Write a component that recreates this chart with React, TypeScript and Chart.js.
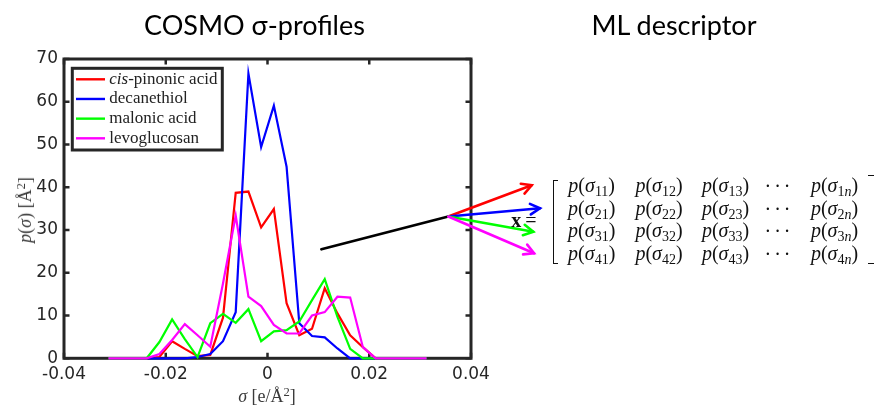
import React, { useEffect, useRef } from "react";
import { Chart, registerables } from "chart.js";

Chart.register(...registerables);

// ---------- data ----------
const sigmaValues = [
  -0.03125, -0.02875, -0.02625, -0.02375, -0.02125, -0.01875, -0.01625, -0.01375,
  -0.01125, -0.00875, -0.00625, -0.00375, -0.00125, 0.00125, 0.00375, 0.00625,
  0.00875, 0.01125, 0.01375, 0.01625, 0.01875, 0.02125, 0.02375, 0.02625, 0.02875, 0.03125,
];
const cisPinonicAcid = [
  0, 0, 0, 0, 0.3, 4.0, 2.2, 0.5, 0.8, 9.5, 38.7, 39.0, 30.6, 34.9, 12.9, 5.4,
  6.9, 16.4, 10.5, 5.4, 2.6, 0, 0, 0, 0, 0,
];
const decanethiol = [
  0, 0, 0, 0, 0, 0, 0, 0.3, 1.0, 4.0, 10.8, 66.6, 49.4, 59.1, 44.8, 8.2,
  5.2, 4.9, 2.3, 0, 0, 0, 0, 0, 0, 0,
];
const malonicAcid = [
  0, 0, 0, 0, 3.8, 9.1, 4.5, 0.3, 8.2, 10.4, 8.3, 11.5, 4.0, 6.3, 6.6, 8.6,
  13.6, 18.5, 9.7, 2.2, 0, 0, 0, 0, 0, 0,
];
const levoglucosan = [
  0, 0, 0, 0, 1.0, 4.3, 8.0, 5.4, 2.7, 17.5, 33.4, 14.4, 12.2, 7.8, 5.8, 5.8,
  10.0, 10.8, 14.4, 14.2, 2.6, 0, 0, 0, 0, 0,
];

const seriesLabels = ["cis-pinonic acid", "decanethiol", "malonic acid", "levoglucosan"];
const seriesItalicPrefix = ["cis", "", "", ""];
const seriesColors = ["#ff0000", "#0000ff", "#00ff00", "#ff00ff"];
const seriesValues = [cisPinonicAcid, decanethiol, malonicAcid, levoglucosan];

const xTickValues = [-0.04, -0.02, 0, 0.02, 0.04];
const xTickLabels = ["-0.04", "-0.02", "0", "0.02", "0.04"];
const yTickValues = [0, 10, 20, 30, 40, 50, 60, 70];
const yTickLabels = ["0", "10", "20", "30", "40", "50", "60", "70"];

const matrixRowIndex = ["1", "2", "3", "4"];
const matrixColIndex = ["1", "2", "3", "dots", "n"];

const AXIS_COLOR = "#262626";

// ---------- plugins ----------
const framePlugin = {
  id: "frameTicks",
  beforeDatasetsDraw(chart: any) {
    const { ctx, chartArea } = chart;
    const { left, right, top, bottom } = chartArea;
    const xs = chart.scales.x;
    const ys = chart.scales.y;
    ctx.save();
    ctx.strokeStyle = AXIS_COLOR;
    ctx.lineWidth = 3;
    ctx.strokeRect(left, top, right - left, bottom - top);
    const tl = 5.5;
    ctx.lineWidth = 2.5;
    ctx.beginPath();
    xTickValues.forEach((v) => {
      const px = xs.getPixelForValue(v);
      ctx.moveTo(px, bottom);
      ctx.lineTo(px, bottom - tl);
      ctx.moveTo(px, top);
      ctx.lineTo(px, top + tl);
    });
    yTickValues.forEach((v) => {
      const py = ys.getPixelForValue(v);
      ctx.moveTo(left, py);
      ctx.lineTo(left + tl, py);
      ctx.moveTo(right, py);
      ctx.lineTo(right - tl, py);
    });
    ctx.stroke();
    ctx.restore();
  },
};

const legendPlugin = {
  id: "boxLegend",
  afterDatasetsDraw(chart: any) {
    const { ctx, chartArea } = chart;
    const bx = chartArea.left + 8.3;
    const by = chartArea.top + 9.3;
    const bw = 150;
    const bh = 81.7;
    ctx.save();
    ctx.fillStyle = "#ffffff";
    ctx.fillRect(bx, by, bw, bh);
    ctx.strokeStyle = AXIS_COLOR;
    ctx.lineWidth = 3;
    ctx.strokeRect(bx, by, bw, bh);
    seriesLabels.forEach((label, i) => {
      const y = by + 11 + i * 19.67;
      ctx.strokeStyle = seriesColors[i];
      ctx.lineWidth = 2.4;
      ctx.beginPath();
      ctx.moveTo(bx + 3.7, y);
      ctx.lineTo(bx + 32.7, y);
      ctx.stroke();
      ctx.fillStyle = "#222222";
      ctx.textBaseline = "middle";
      ctx.textAlign = "left";
      let x = bx + 37;
      let rest = label;
      const pre = seriesItalicPrefix[i];
      if (pre) {
        ctx.font = 'italic 17px "Liberation Serif"';
        ctx.fillText(pre, x, y);
        x += ctx.measureText(pre).width;
        rest = label.slice(pre.length);
      }
      ctx.font = '17px "Liberation Serif"';
      ctx.fillText(rest, x, y);
    });
    ctx.restore();
  },
};

const arrowPlugin = {
  id: "descriptorArrows",
  afterDraw(chart: any) {
    const { ctx } = chart;
    const xs = chart.scales.x;
    const ys = chart.scales.y;
    // start of the black pointer inside the plot (data coords)
    const sx = xs.getPixelForValue(0.0106);
    const sy = ys.getPixelForValue(25.5);
    const ox = 448.3;
    const oy = 216.5;
    ctx.save();
    ctx.lineCap = "round";
    ctx.strokeStyle = "#000000";
    ctx.lineWidth = 2.8;
    ctx.beginPath();
    ctx.moveTo(sx, sy);
    ctx.lineTo(ox, oy);
    ctx.stroke();
    const tips = [
      [531.7, 185.3],
      [540, 208.3],
      [533.3, 231.7],
      [534, 253.3],
    ];
    tips.forEach(([tx, ty], i) => {
      ctx.strokeStyle = seriesColors[i];
      ctx.lineWidth = 2.6;
      ctx.beginPath();
      ctx.moveTo(ox, oy);
      ctx.lineTo(tx, ty);
      ctx.stroke();
      const ang = Math.atan2(ty - oy, tx - ox);
      const hl = 11;
      const ha = 0.5;
      ctx.beginPath();
      ctx.moveTo(tx - hl * Math.cos(ang - ha), ty - hl * Math.sin(ang - ha));
      ctx.lineTo(tx, ty);
      ctx.lineTo(tx - hl * Math.cos(ang + ha), ty - hl * Math.sin(ang + ha));
      ctx.stroke();
    });
    ctx.restore();
  },
};

// ---------- overlay pieces ----------
const mathFont = '"Liberation Serif", "DejaVu Serif", serif';

function Cell({ r, c }: { r: string; c: string }) {
  if (c === "dots") {
    return <span style={{ letterSpacing: "3px" }}>···</span>;
  }
  return (
    <span>
      <i>p</i>(<i>σ</i>
      <span style={{ fontSize: "70%", position: "relative", top: "0.3em" }}>
        {r}
        {c === "n" ? <i>n</i> : c}
      </span>
      )
    </span>
  );
}

export default function App() {
  const canvasRef = useRef<HTMLCanvasElement | null>(null);

  useEffect(() => {
    if (!canvasRef.current) return;
    const order = [3, 2, 1, 0];
    const chart = new Chart(canvasRef.current, {
      type: "line",
      data: {
        datasets: seriesLabels.map((label, i) => ({
          label,
          data: sigmaValues.map((s, j) => ({ x: s, y: seriesValues[i][j] })),
          borderColor: seriesColors[i],
          backgroundColor: seriesColors[i],
          borderWidth: 2.2,
          pointRadius: 0,
          tension: 0,
          fill: false,
          clip: 6,
          order: order[i],
        })),
      },
      options: {
        responsive: false,
        animation: false,
        devicePixelRatio: 1,
        layout: { padding: { left: 0, top: 59, right: 403, bottom: 0 } },
        plugins: {
          legend: { display: false },
          tooltip: { enabled: false },
          title: { display: false },
        },
        scales: {
          x: {
            type: "linear",
            min: -0.04,
            max: 0.04,
            afterBuildTicks: (scale: any) => {
              scale.ticks = xTickValues.map((v) => ({ value: v }));
            },
            afterFit: (scale: any) => {
              scale.height = 47.7;
            },
            grid: { display: false, drawTicks: false },
            border: { display: false },
            ticks: {
              padding: 6,
              color: AXIS_COLOR,
              font: { family: '"DejaVu Sans"', size: 17 },
              maxRotation: 0,
              callback: (value: any) => {
                const k = xTickValues.findIndex((v) => Math.abs(v - Number(value)) < 1e-9);
                return k >= 0 ? xTickLabels[k] : "";
              },
            },
          },
          y: {
            type: "linear",
            min: 0,
            max: 70,
            afterBuildTicks: (scale: any) => {
              scale.ticks = yTickValues.map((v) => ({ value: v }));
            },
            afterFit: (scale: any) => {
              scale.width = 64;
            },
            grid: { display: false, drawTicks: false },
            border: { display: false },
            ticks: {
              padding: 6,
              color: AXIS_COLOR,
              font: { family: '"DejaVu Sans"', size: 17 },
              callback: (value: any) => {
                const k = yTickValues.findIndex((v) => Math.abs(v - Number(value)) < 1e-9);
                return k >= 0 ? yTickLabels[k] : "";
              },
            },
          },
        },
      },
      plugins: [framePlugin, legendPlugin, arrowPlugin],
    } as any);
    return () => chart.destroy();
  }, []);

  const rowY = [186, 208.5, 231, 253.5];
  const colX = [591.7, 659, 725.5, 779, 834.5];

  return (
    <div
      style={{
        position: "fixed",
        left: 0,
        top: 0,
        width: 874,
        height: 406,
        overflow: "hidden",
        background: "#ffffff",
      }}
    >
      <canvas ref={canvasRef} width={874} height={406} style={{ display: "block", position: "absolute", left: 0, top: 0 }} />
      {/* panel titles */}
      <div
        style={{
          position: "absolute",
          left: 254.5,
          top: 11,
          transform: "translateX(-50%)",
          font: '27px Lato, "Open Sans", sans-serif',
          lineHeight: "27px",
          whiteSpace: "nowrap",
          color: "#000",
        }}
      >
        COSMO σ-profiles
      </div>
      <div
        style={{
          position: "absolute",
          left: 674,
          top: 11,
          transform: "translateX(-50%)",
          font: '27px Lato, "Open Sans", sans-serif',
          lineHeight: "27px",
          whiteSpace: "nowrap",
          color: "#000",
        }}
      >
        ML descriptor
      </div>
      {/* axis titles */}
      <div
        style={{
          position: "absolute",
          left: 267,
          top: 397,
          transform: "translate(-50%, -50%)",
          font: `18px ${mathFont}`,
          lineHeight: "18px",
          whiteSpace: "nowrap",
          color: "#3a3a3a",
        }}
      >
        <i>σ</i> [e/Å<span style={{ fontSize: "70%", position: "relative", top: "-0.5em" }}>2</span>]
      </div>
      <div
        style={{
          position: "absolute",
          left: 26,
          top: 210,
          transform: "translate(-50%, -50%) rotate(-90deg)",
          font: `18px ${mathFont}`,
          lineHeight: "18px",
          whiteSpace: "nowrap",
          color: "#3a3a3a",
        }}
      >
        <i>p</i>(<i>σ</i>) [Å<span style={{ fontSize: "70%", position: "relative", top: "-0.5em" }}>2</span>]
      </div>
      {/* matrix */}
      <div
        style={{
          position: "absolute",
          left: 524,
          top: 220,
          transform: "translate(-50%, -50%)",
          font: `20px ${mathFont}`,
          lineHeight: "20px",
          whiteSpace: "nowrap",
          color: "#111",
        }}
      >
        <b>x</b>&thinsp;=
      </div>
      <div style={{ position: "absolute", left: 553, top: 180, width: 5, height: 84, borderLeft: "1.6px solid #111", borderTop: "1.6px solid #111", borderBottom: "1.6px solid #111", boxSizing: "border-box" }} />
      <div style={{ position: "absolute", left: 868, top: 175, width: 10, height: 89, borderRight: "1.6px solid #111", borderTop: "1.6px solid #111", borderBottom: "1.6px solid #111", boxSizing: "border-box" }} />
      {matrixRowIndex.map((r, ri) =>
        matrixColIndex.map((c, ci) => (
          <div
            key={r + c}
            style={{
              position: "absolute",
              left: colX[ci],
              top: rowY[ri],
              transform: "translate(-50%, -50%)",
              font: `20px ${mathFont}`,
              lineHeight: "20px",
              whiteSpace: "nowrap",
              color: "#111",
            }}
          >
            <Cell r={r} c={c} />
          </div>
        ))
      )}
    </div>
  );
}
